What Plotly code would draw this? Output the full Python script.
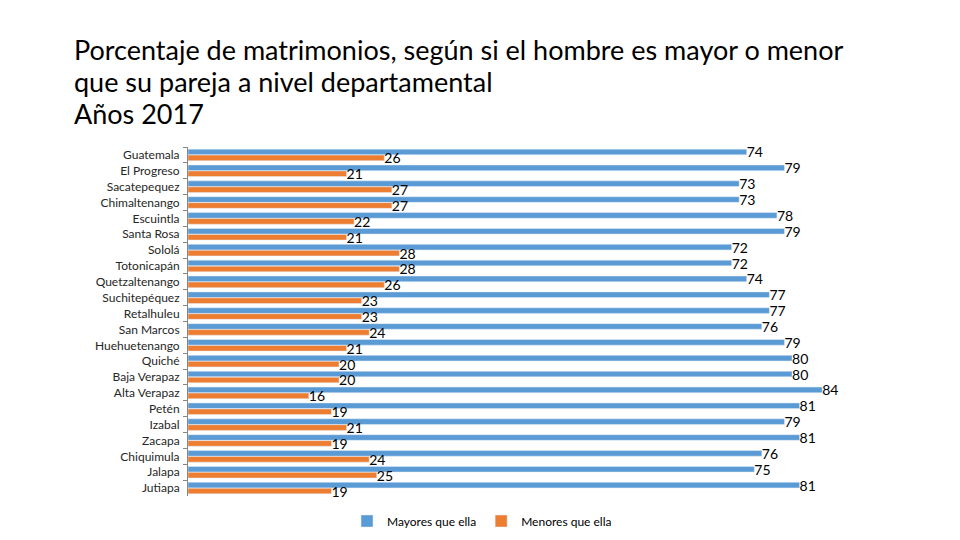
import plotly.graph_objects as go

departamentos = ["Guatemala", "El Progreso", "Sacatepequez", "Chimaltenango", "Escuintla",
                 "Santa Rosa", "Sololá", "Totonicapán", "Quetzaltenango", "Suchitepéquez",
                 "Retalhuleu", "San Marcos", "Huehuetenango", "Quiché", "Baja Verapaz",
                 "Alta Verapaz", "Petén", "Izabal", "Zacapa", "Chiquimula", "Jalapa", "Jutiapa"]
mayores = [74, 79, 73, 73, 78, 79, 72, 72, 74, 77, 77, 76, 79, 80, 80, 84, 81, 79, 81, 76, 75, 81]
menores = [26, 21, 27, 27, 22, 21, 28, 28, 26, 23, 23, 24, 21, 20, 20, 16, 19, 21, 19, 24, 25, 19]
titulo = ["Porcentaje de matrimonios, según si el hombre es mayor o menor",
          "que su pareja a nivel departamental",
          "Años 2017"]

FONT = "Lato"
# page body has an 8px margin: figure is sized/positioned to compensate
W, H = 952, 532
L, R, T, B = 180, 60, 139, 44
PW, PH = W - L - R, H - T - B

fig = go.Figure()
fig.add_trace(go.Bar(y=departamentos, x=mayores, orientation="h", name="Mayores que ella",
                     marker=dict(color="#5B9BD5"), text=mayores, textposition="outside",
                     constraintext="none",
                     textfont=dict(family=FONT, size=14, color="black"), cliponaxis=False))
fig.add_trace(go.Bar(y=departamentos, x=menores, orientation="h", name="Menores que ella",
                     marker=dict(color="#ED7D31"), text=menores, textposition="outside",
                     constraintext="none",
                     textfont=dict(family=FONT, size=14, color="black"), cliponaxis=False))

for i, line in enumerate(titulo):
    fig.add_annotation(text=line, xref="paper", yref="paper", x=(64 - L) / PW,
                       y=1 + (T - (42 + 31.5 * i)) / PH, xanchor="left", yanchor="middle",
                       showarrow=False, font=dict(family=FONT, size=27, color="black"))

fig.update_layout(
    width=W, height=H,
    paper_bgcolor="white", plot_bgcolor="white",
    margin=dict(l=L, r=R, t=T, b=B, autoexpand=False),
    barmode="group", bargap=0.25, bargroupgap=0.05,
    font=dict(family=FONT, color="black"),
    xaxis=dict(range=[0, 94.3], visible=False),
    yaxis=dict(autorange="reversed", showline=True, linecolor="#868686", linewidth=1,
               ticks="outside", tickson="boundaries", ticklen=4, tickcolor="#868686",
               ticklabelstandoff=5, automargin=False,
               tickfont=dict(family=FONT, size=12, color="#262626"), showgrid=False),
    legend=dict(orientation="h", xref="container", yref="container", x=(482 - 8) / W,
                xanchor="center", y=(540 - 521) / H, yanchor="middle",
                font=dict(family=FONT, size=12, color="black"), itemwidth=30),
)
fig.write_html("out.html")
